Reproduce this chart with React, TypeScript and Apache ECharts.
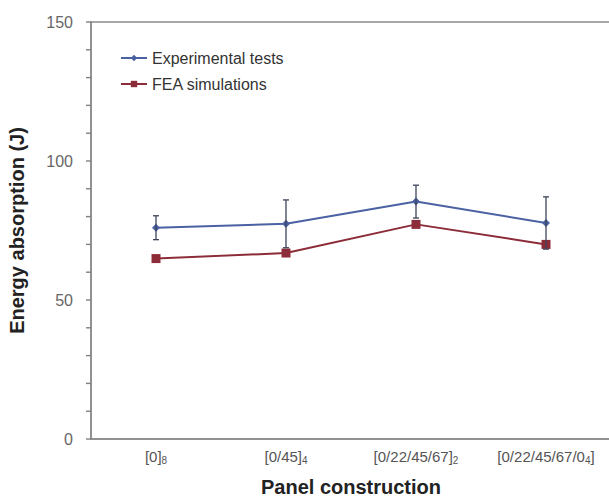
import React, { useEffect, useRef } from "react";
import * as echarts from "echarts";

const categories = ["[0]{sub|8}", "[0/45]{sub|4}", "[0/22/45/67]{sub|2}", "[0/22/45/67/0{sub|4}]"];
const experimental = [76.0, 77.4, 85.4, 77.7];
const experimentalErr = [4.3, 8.6, 5.9, 9.4];
const fea = [64.9, 66.9, 77.2, 70.0];
const yTickValues = [0, 10, 20, 30, 40, 50, 60, 70, 80, 90, 100, 110, 120, 130, 140, 150];

export default function App() {
  const ref = useRef<HTMLDivElement>(null);
  useEffect(() => {
    if (!ref.current) return;
    const chart = echarts.init(ref.current, undefined, { renderer: "svg" });
    const errData = experimental.map((v, i) => [i, v - experimentalErr[i], v + experimentalErr[i]]);
    chart.setOption({
      animation: false,
      backgroundColor: "#ffffff",
      textStyle: { fontFamily: "Liberation Sans, Arial, sans-serif" },
      grid: {
        left: 91, top: 22, width: 520, height: 417,
        outerBoundsMode: "none", containLabel: false,
        show: true, borderColor: "#8a8a8a", borderWidth: 1.5, backgroundColor: "transparent",
      },
      legend: {
        orient: "vertical",
        left: 115,
        top: 45,
        itemWidth: 26,
        itemHeight: 8,
        itemGap: 10,
        textStyle: { fontSize: 16, color: "#333" },
        data: ["Experimental tests", "FEA simulations"],
      },
      xAxis: {
        type: "category",
        data: categories,
        boundaryGap: true,
        axisLine: { lineStyle: { color: "#8a8a8a", width: 1.5 } },
        axisTick: { show: false },
        axisLabel: {
          color: "#555",
          fontSize: 15,
          margin: 8,
          interval: 0,
          rich: { sub: { fontSize: 10, color: "#555", verticalAlign: "bottom", padding: [8, 0, 0, 0] } },
        },
        name: "Panel construction",
        nameLocation: "middle",
        nameGap: 38,
        nameTextStyle: { fontSize: 20, fontWeight: "bold", color: "#222" },
      },
      yAxis: {
        type: "value",
        min: 0,
        max: 150,
        interval: 50,
        axisLine: { show: true, lineStyle: { color: "#8a8a8a", width: 1.5 } },
        axisTick: { show: false },
        splitLine: { show: false },
        axisLabel: { color: "#666", fontSize: 16, margin: 18 },
        name: "Energy absorption (J)",
        nameLocation: "middle",
        nameGap: 64,
        nameTextStyle: { fontSize: 20, fontWeight: "bold", color: "#222" },
      },
      series: [
        {
          name: "Experimental tests",
          type: "line",
          data: experimental,
          symbol: "diamond",
          symbolSize: 8,
          itemStyle: { color: "#4a62a3" },
          lineStyle: { color: "#4a62a3", width: 2 },
          z: 3,
        },
        {
          name: "FEA simulations",
          type: "line",
          data: fea,
          symbol: "rect",
          symbolSize: 9,
          itemStyle: { color: "#8c2c38" },
          lineStyle: { color: "#8c2c38", width: 2 },
          z: 3,
        },
        {
          name: "err",
          type: "custom",
          data: errData,
          z: 4,
          renderItem: (params: any, api: any) => {
            const x = api.value(0);
            const lo = api.coord([x, api.value(1)]);
            const hi = api.coord([x, api.value(2)]);
            const cap = 3;
            const style = { stroke: "#3d4459", lineWidth: 1.3 };
            return {
              type: "group",
              children: [
                { type: "line", shape: { x1: lo[0], y1: lo[1], x2: hi[0], y2: hi[1] }, style },
                { type: "line", shape: { x1: hi[0] - cap, y1: hi[1], x2: hi[0] + cap, y2: hi[1] }, style },
                { type: "line", shape: { x1: lo[0] - cap, y1: lo[1], x2: lo[0] + cap, y2: lo[1] }, style },
              ],
            };
          },
        },
        {
          name: "yticks",
          type: "custom",
          data: yTickValues.map((v) => [0, v]),
          clip: false,
          silent: true,
          z: 5,
          renderItem: (params: any, api: any) => {
            const p = api.coord([0, api.value(1)]);
            const band = api.size([1, 0])[0];
            const left = p[0] - band / 2;
            return {
              type: "line",
              shape: { x1: left - 5, y1: p[1], x2: left, y2: p[1] },
              style: { stroke: "#808080", lineWidth: 1.4 },
            };
          },
        },
      ],
    });
    return () => chart.dispose();
  }, []);
  return <div ref={ref} style={{ position: "fixed", left: 0, top: 0, width: 609, height: 498 }} />;
}
